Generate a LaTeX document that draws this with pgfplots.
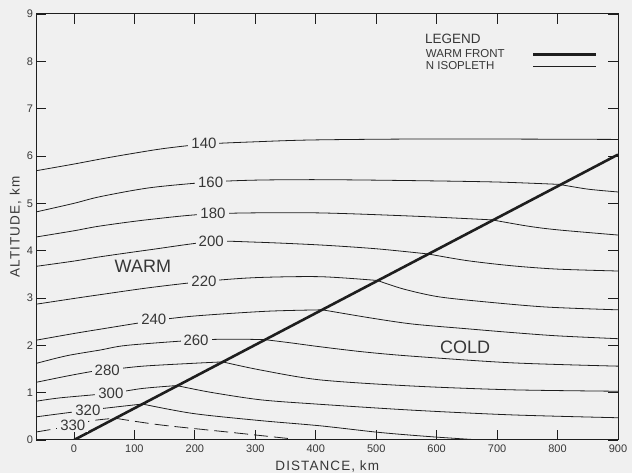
\documentclass[border=0pt]{standalone}
\usepackage{fontspec}
\setmainfont{Liberation Sans}
\usepackage{pgfplots}
\pgfplotsset{compat=1.18}
\usetikzlibrary{backgrounds}
\definecolor{bgc}{RGB}{240,240,240}
\definecolor{ink}{RGB}{30,30,30}
\definecolor{txt}{RGB}{55,55,55}
\newcommand{\lblfont}{\fontsize{15bp}{17bp}\selectfont}
\newcommand{\axlfont}{\fontsize{13.5bp}{16bp}\selectfont\addfontfeatures{LetterSpace=8}}
\begin{document}
\begin{tikzpicture}
\begin{axis}[name=ax, scale only axis, width=581.5bp, height=426bp,
 xmin=-62, xmax=900, ymin=0, ymax=9,
 xtick={0,100,...,900}, ytick={0,1,...,9},
 tick align=inside, major tick length=10bp,
 tick style={ink, line width=0.8bp},
 axis line style={ink, line width=1bp},
 /pgf/number format/assume math mode=true,
 /pgf/number format/set thousands separator={},
 ticklabel style={font=\fontsize{11bp}{13bp}\selectfont, text=txt},
 xticklabel style={yshift=-1bp},
 xlabel={DISTANCE, km}, ylabel={ALTITUDE, km},
 every axis x label/.style={at={(axis description cs:0.5,0)}, anchor=center, yshift=-26bp, font=\axlfont, text=txt},
 every axis y label/.style={at={(axis description cs:0,0.5)}, anchor=center, xshift=-21bp, rotate=90, font=\axlfont, text=txt},
 legend plot pos=right, legend cell align=left,
 legend style={draw=none, fill=none, inner sep=0pt, outer sep=0pt,
   at={(rel axis cs:0.668,0.918)}, anchor=north west,
   font=\fontsize{11.5bp}{12bp}\selectfont, text=txt, row sep=0bp,
   /tikz/column sep=26bp, nodes={inner sep=1bp}},
 legend image code/.code={\draw[#1] (0bp,0bp) -- (63bp,0bp);},
 every axis plot/.append style={ink, line width=0.8bp},
]
\addlegendimage{ink, line width=2.6bp}
\addlegendentry{WARM FRONT}
\addlegendimage{ink, line width=0.8bp}
\addlegendentry{N ISOPLETH}

% 140
\addplot[smooth, forget plot] coordinates {(-62,5.69)(0,5.83)(50,5.95)(100,6.06)(150,6.16)(215,6.25)(300,6.30)(400,6.34)(600,6.36)(900,6.35)};
% 160
\addplot[smooth, forget plot] coordinates {(-62,4.82)(0,5.00)(43,5.14)(126,5.33)(226,5.45)(300,5.49)(407,5.50)(560,5.48)(700,5.45)(803,5.40)};
\addplot[smooth, forget plot] coordinates {(803,5.40)(850,5.30)(900,5.24)};
% 180
\addplot[smooth, forget plot] coordinates {(-62,4.29)(0,4.42)(43,4.52)(126,4.66)(230,4.78)(394,4.80)(560,4.73)(692,4.65)};
\addplot[smooth, forget plot] coordinates {(692,4.65)(750,4.52)(800,4.44)(900,4.33)};
% 200
\addplot[smooth, forget plot] coordinates {(-62,3.67)(0,3.78)(43,3.87)(126,4.02)(227,4.19)(300,4.18)(407,4.12)(500,4.04)(586,3.93)};
\addplot[smooth, forget plot] coordinates {(586,3.93)(650,3.79)(725,3.68)(800,3.61)(900,3.57)};
% 220
\addplot[smooth, forget plot] coordinates {(-62,2.87)(0,2.99)(43,3.07)(126,3.22)(215,3.35)(300,3.43)(407,3.45)(502,3.37)};
\addplot[smooth, forget plot] coordinates {(502,3.37)(545,3.19)(601,3.03)(671,2.93)(780,2.81)(900,2.75)};
% 240
\addplot[smooth, forget plot] coordinates {(-62,2.11)(0,2.25)(43,2.34)(132,2.52)(200,2.62)(319,2.72)(411,2.75)};
\addplot[smooth, forget plot] coordinates {(411,2.75)(490,2.58)(560,2.45)(650,2.35)(725,2.27)(800,2.20)(900,2.14)};
% 260
\addplot[smooth, forget plot] coordinates {(-62,1.62)(-12,1.78)(43,1.90)(88,2.00)(202,2.11)(263,2.13)(316,2.12)};
\addplot[smooth, forget plot] coordinates {(316,2.12)(360,2.05)(407,1.97)(480,1.86)(560,1.77)(725,1.63)(900,1.56)};
% 280
\addplot[smooth, forget plot] coordinates {(-62,1.22)(-12,1.35)(31,1.45)(55,1.48)(114,1.56)(197,1.62)(246,1.65)};
\addplot[smooth, forget plot] coordinates {(246,1.65)(308,1.48)(407,1.27)(560,1.14)(725,1.06)(900,1.03)};
% 300
\addplot[smooth, forget plot] coordinates {(-62,0.82)(-23,0.89)(61,0.99)(114,1.09)(170,1.15)};
\addplot[smooth, forget plot] coordinates {(170,1.15)(225,1.01)(308,0.85)(400,0.76)(560,0.63)(725,0.53)(900,0.47)};
% 320
\addplot[smooth, forget plot] coordinates {(-62,0.49)(-20,0.56)(23,0.63)(71,0.70)(113,0.76)};
\addplot[smooth, forget plot] coordinates {(113,0.76)(197,0.56)(308,0.41)(407,0.30)(505,0.16)(590,0.07)(660,0.01)};
% 330 (dashed)
\addplot[smooth, forget plot, dash pattern=on 14bp off 6bp] coordinates {(-62,0.17)(-30,0.24)(-2,0.31)(31,0.41)(68,0.46)};
\addplot[smooth, forget plot, dash pattern=on 14bp off 6bp] coordinates {(68,0.46)(142,0.32)(253,0.17)(363,0.02)};

% warm front
\addplot[forget plot, line width=2.6bp] coordinates {(0,0)(900,6.03)};

% contour labels
\begin{scope}[every node/.style={fill=bgc, inner xsep=3bp, inner ysep=1bp, font=\lblfont, text=txt}]
\node at (axis cs:215,6.26) {140};
\node at (axis cs:226,5.45) {160};
\node at (axis cs:230,4.78) {180};
\node at (axis cs:227,4.19) {200};
\node at (axis cs:215,3.36) {220};
\node at (axis cs:132,2.54) {240};
\node at (axis cs:202,2.11) {260};
\node at (axis cs:55,1.48) {280};
\node at (axis cs:61,0.99) {300};
\node at (axis cs:23,0.63) {320};
\node at (axis cs:-2,0.31) {330};
\end{scope}
\node[font=\fontsize{18bp}{20bp}\selectfont, text=txt] at (axis cs:114,3.66) {WARM};
\node[font=\fontsize{18bp}{20bp}\selectfont, text=txt] at (axis cs:647,1.95) {COLD};
\node[anchor=west, inner sep=0pt, font=\fontsize{13.5bp}{15bp}\selectfont, text=txt] at (rel axis cs:0.668,0.941) {LEGEND};
\end{axis}
\pgfresetboundingbox
\path[use as bounding box] ([shift={(-36.5bp,-33bp)}]ax.south west) rectangle ([shift={(14bp,14bp)}]ax.north east);
\begin{scope}[on background layer]
\fill[bgc] ([shift={(-36.5bp,-33bp)}]ax.south west) rectangle ([shift={(14bp,14bp)}]ax.north east);
\end{scope}
\end{tikzpicture}
\end{document}
